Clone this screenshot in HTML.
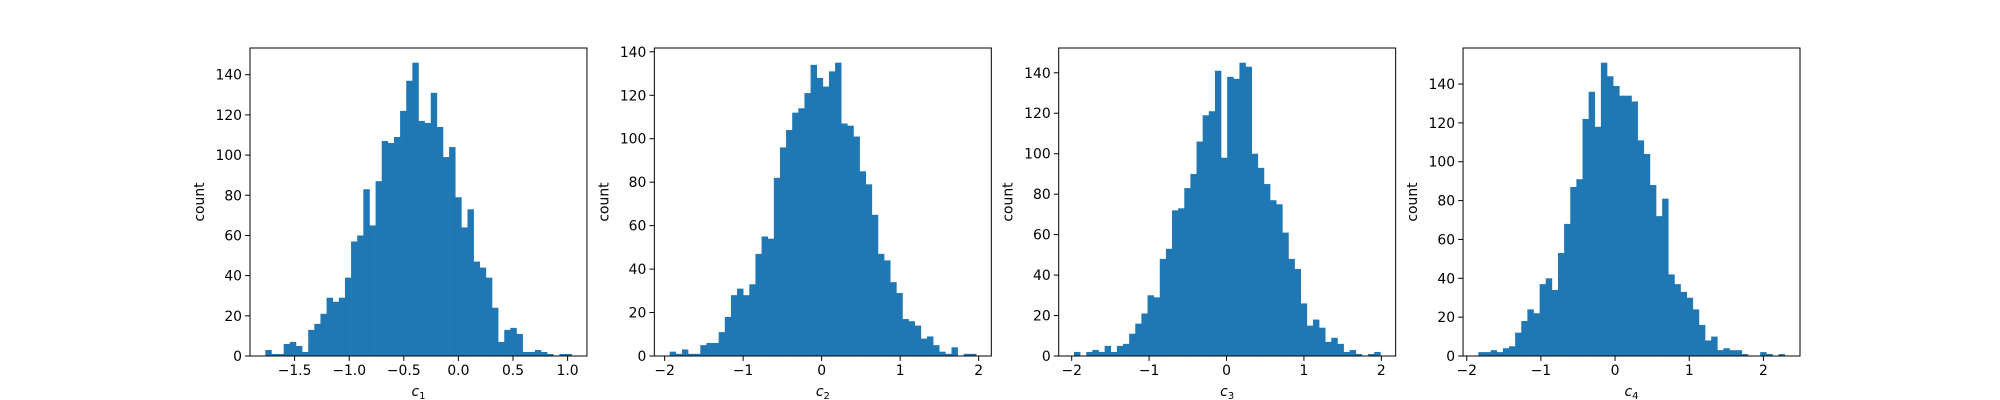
<!DOCTYPE html>
<html><head><meta charset="utf-8"><style>
html,body{margin:0;padding:0;background:#fff;}
svg{display:block;font-family:"DejaVu Sans","Liberation Sans",sans-serif;}
</style></head><body>
<svg id="fig" width="2000" height="400" viewBox="0 0 2000 400" xmlns="http://www.w3.org/2000/svg"></svg>
<script>
const counts1 = [3,1,1,6,7,5,2,13,16,21,29,27,29,39,57,60,83,65,87,107,106,109,122,137,146,117,116,131,114,99,104,79,64,73,47,44,39,24,7,13,14,11,2,2,3,2,1,0,1,1];
const counts2 = [2,1,3,1,1,5,6,6,11,18,28,31,28,33,47,55,54,82,96,104,112,114,121,134,128,124,131,135,107,106,101,85,79,65,47,44,34,29,17,16,14,8,9,5,2,1,4,0,1,1];
const counts3 = [2,0,2,3,2,5,2,5,6,11,16,21,30,29,48,53,72,73,83,90,106,119,121,141,98,138,137,145,143,100,93,85,77,75,61,48,43,26,15,18,14,7,9,6,2,3,1,0,1,2];
const counts4 = [2,2,3,2,4,5,12,18,24,22,37,40,34,53,68,87,91,122,136,118,151,144,139,134,134,131,111,104,88,72,81,42,37,33,30,24,16,8,10,3,4,3,3,1,0,0,2,1,0,1];
const binRanges = [[-1.768,1.037],[-1.936,1.966],[-1.970,1.987],[-1.843,2.287]];
const xTicks1 = [-1.5,-1.0,-0.5,0.0,0.5,1.0];
const xTickLabels1 = ["\u22121.5","\u22121.0","\u22120.5","0.0","0.5","1.0"];
const xTicksInt = [-2,-1,0,1,2];
const xTickLabelsInt = ["\u22122","\u22121","0","1","2"];
const yTicks = [0,20,40,60,80,100,120,140];
const subs = ["1","2","3","4"];

const NS="http://www.w3.org/2000/svg";
const svgRoot=document.getElementById('fig');
function mk(tag,attrs,parent){const e=document.createElementNS(NS,tag);for(const k in attrs)e.setAttribute(k,attrs[k]);(parent||svgRoot).appendChild(e);return e;}

const allCounts=[counts1,counts2,counts3,counts4];
const axW=336.96, axGap=67.39, axTop=48, axBottom=356, axH=axBottom-axTop;
allCounts.forEach((counts,p)=>{
  const x0=250+p*(axW+axGap);
  const g=mk('g',{});
  
  
  const mn=binRanges[p][0], mx=binRanges[p][1];
  const rng=mx-mn, lo=mn-0.05*rng, hi=mx+0.05*rng;
  const ymax=Math.max(...counts)*1.05;
  const X=v=>x0+(v-lo)/(hi-lo)*axW;
  const Y=v=>axBottom-v/ymax*axH;
  const bw=rng/counts.length;
  counts.forEach((c,i)=>{
    const xa=X(mn+i*bw), xb=X(mn+(i+1)*bw);
    const r=mk('rect',{x:xa,y:Y(c),width:xb-xa+0.3,height:axBottom-Y(c),fill:'#1f77b4'},g);
    
    
  });
  const fr=mk('rect',{x:x0,y:axTop,width:axW,height:axH,fill:'none',stroke:'#000','stroke-width':1},g);
  
  
  const xt=p===0?xTicks1:xTicksInt, xl=p===0?xTickLabels1:xTickLabelsInt;
  xt.forEach((t,i)=>{
    const x=X(t);
    mk('line',{x1:x,x2:x,y1:axBottom,y2:axBottom+4.9,stroke:'#000','stroke-width':1},g);
    const tx=mk('text',{x:x,y:axBottom+19,'font-size':13.9,'text-anchor':'middle',fill:'#000'},g);
    tx.textContent=xl[i];
    
    
  });
  yTicks.forEach(t=>{
    const y=Y(t);
    mk('line',{x1:x0-4.9,x2:x0,y1:y,y2:y,stroke:'#000','stroke-width':1},g);
    const tx=mk('text',{x:x0-8,y:y+5,'font-size':13.9,'text-anchor':'end',fill:'#000'},g);
    tx.textContent=String(t);
    
    
  });
  const yl=mk('text',{x:0,y:0,'font-size':13.9,'text-anchor':'middle',fill:'#000',transform:'translate('+(x0-46)+','+(axTop+axH/2)+') rotate(-90)'},g);
  yl.textContent='count';
  
  
  const xlab=mk('text',{x:x0+axW/2,y:axBottom+40,'font-size':13.9,'text-anchor':'middle',fill:'#000'},g);
  
  
  const t1=mk('tspan',{'font-style':'italic'},xlab); t1.textContent='c';
  const t2=mk('tspan',{'font-size':10,dy:3},xlab); t2.textContent=subs[p];
});
</script>
</body></html>
